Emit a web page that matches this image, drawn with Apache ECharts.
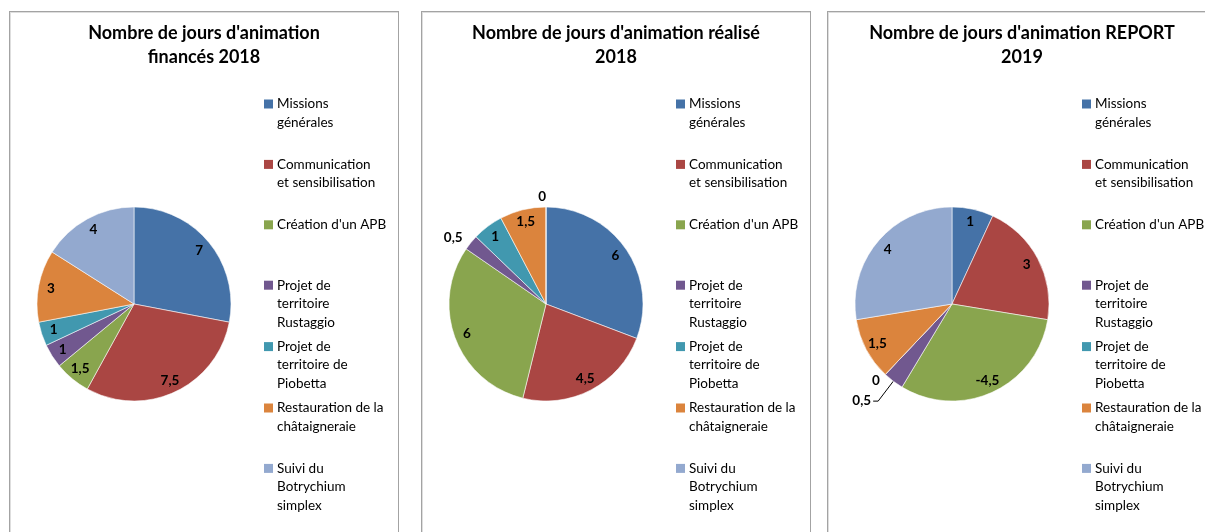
<!DOCTYPE html>
<html>
<head>
<meta charset="utf-8">
<script src="https://cdn.jsdelivr.net/npm/echarts@6/dist/echarts.min.js"></script>
<style>
  html, body { margin: 0; padding: 0; background: #fff; overflow: hidden; width: 1205px; height: 532px; }
  .panel { position: absolute; top: 11px; width: 390px; height: 540px; border: 1px solid #a3a3a3;
           box-sizing: border-box; box-shadow: inset 1px 1px 0 #dedede; background: #fff; }
</style>
</head>
<body>
<div id="p1" class="panel" style="left:9px"></div>
<div id="p2" class="panel" style="left:421px"></div>
<div id="p3" class="panel" style="left:827px"></div>
<script>
// Project categories (full names) and how each is wrapped in the legend
const categories = [
  'Missions générales',
  'Communication et sensibilisation',
  "Création d'un APB",
  'Projet de territoire Rustaggio',
  'Projet de territoire de Piobetta',
  'Restauration de la châtaigneraie',
  'Suivi du Botrychium simplex'
];
const legendLines = [
  ['Missions', 'générales'],
  ['Communication', 'et sensibilisation'],
  ["Création d'un APB"],
  ['Projet de', 'territoire', 'Rustaggio'],
  ['Projet de', 'territoire de', 'Piobetta'],
  ['Restauration de la', 'châtaigneraie'],
  ['Suivi du', 'Botrychium', 'simplex']
];

// Chart titles
const titles = [
  "Nombre de jours d'animation\nfinancés 2018",
  "Nombre de jours d'animation réalisé\n2018",
  "Nombre de jours d'animation REPORT\n2019"
];

// Days of animation per category
const finances2018 = [7, 7.5, 1.5, 1, 1, 3, 4];
const realise2018  = [6, 4.5, 6, 0.5, 1, 1.5, 0];
const report2019   = [1, 3, -4.5, 0.5, 0, 1.5, 4];

const palette = ['#4572a7', '#aa4643', '#89a54e', '#71588f', '#4198af', '#db843d', '#93a9cf'];
const FONT = 'Lato, "Liberation Sans", sans-serif';

// Small slices get their label outside the pie; these tune the outside labels
const outsideLabelStyle = {
  p2: { 3: { length: 8, length2: 0, dist: 2, line: false }, 6: { length: 10, length2: 0, dist: 0, line: false } },
  p3: { 3: { length: 25, length2: 5, dist: 2, line: true }, 4: { length: 8, length2: 0, dist: 0, line: false } }
};

const fmt = v => String(v).replace('.', ',');

function buildOption(title, values, outsideStyle) {
  const center = [124, 292];
  const R = 97;
  const isSmall = v => Math.abs(v) < 1;

  const labelFont = { fontFamily: FONT, fontWeight: 'bold', fontSize: 13.5, color: '#000' };

  const mainData = values.map((v, i) => {
    const small = isSmall(v);
    const st = (outsideStyle && outsideStyle[i]) || { length: 10, length2: 0, dist: 2, line: false };
    return {
      name: categories[i],
      value: Math.abs(v),
      itemStyle: { color: palette[i] },
      label: small
        ? { show: true, position: 'outside', distanceToLabelLine: st.dist }
        : { show: false },
      labelLine: {
        show: small && st.line,
        length: st.length,
        length2: st.length2,
        smooth: false,
        lineStyle: { color: '#000', width: 1 }
      }
    };
  });

  const overlayData = values.map((v, i) => ({
    name: categories[i],
    value: Math.abs(v),
    label: { show: !isSmall(v) }
  }));

  const LH = 18.5;
  const rich = {
    g: { width: 4, lineHeight: LH },
    ind: { width: 13, lineHeight: LH },
    t: { fontFamily: FONT, fontSize: 13.5, color: '#000', lineHeight: LH }
  };
  palette.forEach((c, i) => {
    rich['m' + i] = { width: 9, height: 9, backgroundColor: c, lineHeight: LH };
  });

  return {
    animation: false,
    title: {
      text: title,
      left: 'center',
      top: 9.5,
      padding: 0,
      textStyle: { fontFamily: FONT, fontWeight: 'bold', fontSize: 18, lineHeight: 24, color: '#000' }
    },
    legend: {
      data: categories,
      orient: 'vertical',
      left: 249,
      top: 85,
      padding: 0,
      itemGap: 10.4,
      icon: 'none',
      itemWidth: 0,
      itemHeight: 0,
      formatter: name => {
        const i = categories.indexOf(name);
        const lines = legendLines[i].slice();
        while (lines.length < 3) lines.push('');
        return lines.map((l, k) =>
          (k === 0 ? '{m' + i + '|}{g|}' : '{ind|}') + (l ? '{t|' + l + '}' : '')
        ).join('\n');
      },
      textStyle: { rich: rich }
    },
    series: [
      {
        type: 'pie',
        center: center,
        radius: R,
        startAngle: 90,
        clockwise: true,
        avoidLabelOverlap: false,
        emphasis: { scale: false },
        itemStyle: { borderColor: 'rgba(255,255,255,0.7)', borderWidth: 0.8 },
        label: Object.assign({ formatter: p => fmt(values[p.dataIndex]) }, labelFont),
        data: mainData
      },
      {
        // transparent ring that carries the inside-end value labels
        type: 'pie',
        center: center,
        radius: [R * 0.68, R],
        startAngle: 90,
        clockwise: true,
        silent: true,
        avoidLabelOverlap: false,
        itemStyle: { color: 'rgba(0,0,0,0)', borderWidth: 0 },
        labelLine: { show: false },
        label: Object.assign({ position: 'inside', formatter: p => fmt(values[p.dataIndex]) }, labelFont),
        data: overlayData
      }
    ]
  };
}

const panels = [
  ['p1', titles[0], finances2018, null],
  ['p2', titles[1], realise2018, outsideLabelStyle.p2],
  ['p3', titles[2], report2019, outsideLabelStyle.p3]
];
panels.forEach(([id, title, values, st]) => {
  const chart = echarts.init(document.getElementById(id), null, { renderer: 'canvas' });
  chart.setOption(buildOption(title, values, st));
});
</script>
</body>
</html>
